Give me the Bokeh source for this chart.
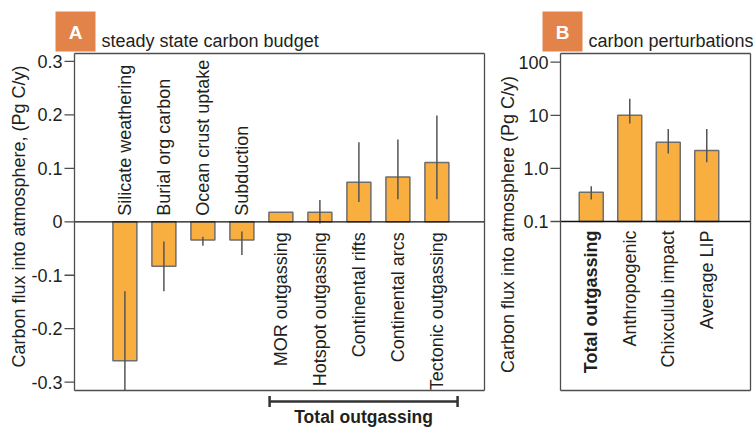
import math
from bokeh.plotting import figure
from bokeh.models import Range1d, ColumnDataSource
from bokeh.layouts import row
from bokeh.embed import file_html
from bokeh.resources import INLINE
from bokeh.core.properties import value

NAN = float("nan")

# ---------------- data: panel A (steady state carbon budget) ----------------
budget_labels = ["Silicate weathering", "Burial org carbon", "Ocean crust uptake", "Subduction",
                 "MOR outgassing", "Hotspot outgassing", "Continental rifts",
                 "Continental arcs", "Tectonic outgassing"]
budget_flux = [-0.260, -0.083, -0.034, -0.034, 0.018, 0.018, 0.074, 0.084, 0.111]
budget_err_low = [-0.39, -0.130, -0.045, -0.062, NAN, -0.003, 0.037, 0.042, 0.042]
budget_err_high = [-0.130, -0.037, -0.028, -0.018, NAN, 0.041, 0.149, 0.154, 0.199]
budget_ticks = [-0.3, -0.2, -0.1, 0.0, 0.1, 0.2, 0.3]
budget_axis_min, budget_axis_max = -0.3156, 0.3149
outgassing_group = ["MOR outgassing", "Tectonic outgassing"]  # first and last under the bracket

# ---------------- data: panel B (carbon perturbations) ----------------
perturb_labels = ["Total outgassing", "Anthropogenic", "Chixculub impact", "Average LIP"]
perturb_flux = [0.355, 10.0, 3.12, 2.18]
perturb_err_low = [0.26, 7.0, 1.9, 1.3]
perturb_err_high = [0.46, 20.6, 5.5, 5.5]
perturb_ticks = [0.1, 1.0, 10.0, 100.0]
perturb_tick_labels = ["0.1", "1.0", "10", "100"]
perturb_axis_min, perturb_axis_max = 10 ** -4.183, 10 ** 2.164

FONT = "Liberation Sans"
FS = "18px"
TXT = "#231f20"
BAR = "#f9ae40"
BAR_LINE = "#6e6e6e"
ERR = "#555555"
FRAME = "#4d4d4d"
BADGE = "#e2844a"
H = 429
WA = 488
WB = 265


def canvas_fig(width, x_range, y_range, y_type="linear"):
    p = figure(width=width, height=H, x_range=x_range, y_range=y_range, y_axis_type=y_type,
               x_axis_location=None, y_axis_location=None, toolbar_location=None,
               output_backend="svg", min_border=0)
    p.grid.visible = False
    p.outline_line_color = None
    p.background_fill_color = "white"
    p.border_fill_color = "white"
    return p


def txt(p, x, y, s, **kw):
    args = dict(text_font=value(FONT), text_font_size=value(FS), text_color=TXT)
    args.update(kw)
    p.text(x=x, y=y, text=s, **args)


def draw_panel(p, X, Y, box, ticks, tick_labels, axis_label, label_pos, letter, title):
    """box = (left, right, top, bottom) in page pixels; X/Y map pixels -> data."""
    L, R, T, B = box
    # frame box
    p.segment(x0=[X(L), X(L), X(L), X(R)], y0=[Y(T), Y(B), Y(T), Y(T)],
              x1=[X(R), X(R), X(L), X(R)], y1=[Y(T), Y(B), Y(B), Y(B)],
              line_color=FRAME, line_width=1.3)
    # y ticks and tick labels
    p.segment(x0=[X(L - 10)] * len(ticks), y0=ticks, x1=[X(L)] * len(ticks), y1=ticks,
              line_color=FRAME, line_width=1.3)
    txt(p, [X(L - 12)] * len(ticks), ticks, tick_labels, text_align="right",
        text_baseline="middle")
    # axis title
    txt(p, [X(label_pos[0])], [Y(label_pos[1])], [axis_label], angle=math.pi / 2,
        text_align="center", text_baseline="middle")
    # badge + panel title
    bl = L - 19 if letter == "A" else L - 18
    p.quad(left=[X(bl)], right=[X(bl + 40)], top=[Y(11)], bottom=[Y(51)],
           fill_color=BADGE, line_color=None)
    txt(p, [X(bl + 20)], [Y(31.5)], [letter], text_align="center", text_baseline="middle",
        text_color="white", text_font_size=value("19px"), text_font_style="bold")
    txt(p, [X(bl + 46)], [Y(40)], [title], text_align="left", text_baseline="middle")


# ---------------- panel A ----------------
# page-pixel -> data helpers (positions only)
ax0, adx = 124.4, 39.0          # pixel x of first bar, pixels per category
ay0, ady = 221.3, 534.5         # pixel y of zero, pixels per flux unit
XA = lambda px: (px - ax0) / adx
YA = lambda py: (ay0 - py) / ady

xa = list(range(len(budget_labels)))
pA = canvas_fig(WA, Range1d(XA(0), XA(WA)), Range1d(YA(H), YA(0)))

boxA = (74, 484, 53, 390)
lo_clip = [max(v, budget_axis_min) if v == v else v for v in budget_err_low]
srcA = ColumnDataSource(dict(x=xa, top=budget_flux, lo=lo_clip, hi=budget_err_high))
pA.vbar(x="x", top="top", bottom=0, width=0.615, source=srcA,
        fill_color=BAR, line_color=BAR_LINE, line_width=1.5)
pA.segment(x0="x", y0="lo", x1="x", y1="hi", source=srcA, line_color=ERR, line_width=1.5)
pA.segment(x0=[XA(74)], y0=[0], x1=[XA(484)], y1=[0], line_color="#111111", line_width=1.3)

neg = [i for i, v in enumerate(budget_flux) if v < 0]
pos = [i for i, v in enumerate(budget_flux) if v >= 0]
txt(pA, [xa[i] for i in neg], [YA(215.3)] * len(neg), [budget_labels[i] for i in neg],
    angle=math.pi / 2, text_align="left", text_baseline="middle")
txt(pA, [xa[i] for i in pos], [YA(231.7)] * len(pos), [budget_labels[i] for i in pos],
    angle=math.pi / 2, text_align="right", text_baseline="middle")

draw_panel(pA, XA, YA, boxA, budget_ticks,
           ["0" if t == 0 else f"{t:.1f}" for t in budget_ticks],
           "Carbon flux into atmosphere, (Pg C/y)", (18.7, 216), "A",
           "steady state carbon budget")

# bracket "Total outgassing"
g0 = budget_labels.index(outgassing_group[0]) - 0.29
g1 = budget_labels.index(outgassing_group[1]) + 0.53
pA.segment(x0=[g0, g0, g1], y0=[YA(401), YA(395.5), YA(395.5)],
           x1=[g1, g0, g1], y1=[YA(401), YA(406.5), YA(406.5)],
           line_color="#333333", line_width=2.5)
txt(pA, [(g0 + g1) / 2], [YA(416)], ["Total outgassing"], text_align="center",
    text_baseline="middle", text_font_style="bold", text_font_size=value("17.5px"))

# ---------------- panel B ----------------
bx0, bdx = 590.75 - WA, 38.5     # pixel x (within panel B canvas) of first bar
by0, bdy = 221.0, 53.1           # pixel y of 0.1, pixels per decade
XB = lambda px: (px - WA - bx0) / bdx
YB = lambda py: 10 ** (-1 + (by0 - py) / bdy)

xb = list(range(len(perturb_labels)))
pB = canvas_fig(WB, Range1d(XB(WA), XB(WA + WB)), Range1d(YB(H), YB(0)), y_type="log")

boxB = (560, 750, 53, 390)
srcB = ColumnDataSource(dict(x=xb, top=perturb_flux, lo=perturb_err_low, hi=perturb_err_high))
pB.vbar(x="x", top="top", bottom=0.1, width=0.623, source=srcB,
        fill_color=BAR, line_color=BAR_LINE, line_width=1.5)
pB.segment(x0="x", y0="lo", x1="x", y1="hi", source=srcB, line_color=ERR, line_width=1.5)
pB.segment(x0=[XB(560)], y0=[0.1], x1=[XB(750)], y1=[0.1], line_color="#111111",
           line_width=1.3)

yl = YB(230)
txt(pB, xb[:1], [yl], perturb_labels[:1], angle=math.pi / 2, text_align="right",
    text_baseline="middle", text_font_style="bold")
txt(pB, xb[1:], [yl] * (len(xb) - 1), perturb_labels[1:], angle=math.pi / 2,
    text_align="right", text_baseline="middle")

draw_panel(pB, XB, YB, boxB, perturb_ticks, perturb_tick_labels,
           "Carbon flux into atmosphere (Pg C/y)", (507, 224), "B",
           "carbon perturbations")

layout = row(pA, pB, spacing=0)
open("out.html", "w").write(file_html(layout, INLINE))
